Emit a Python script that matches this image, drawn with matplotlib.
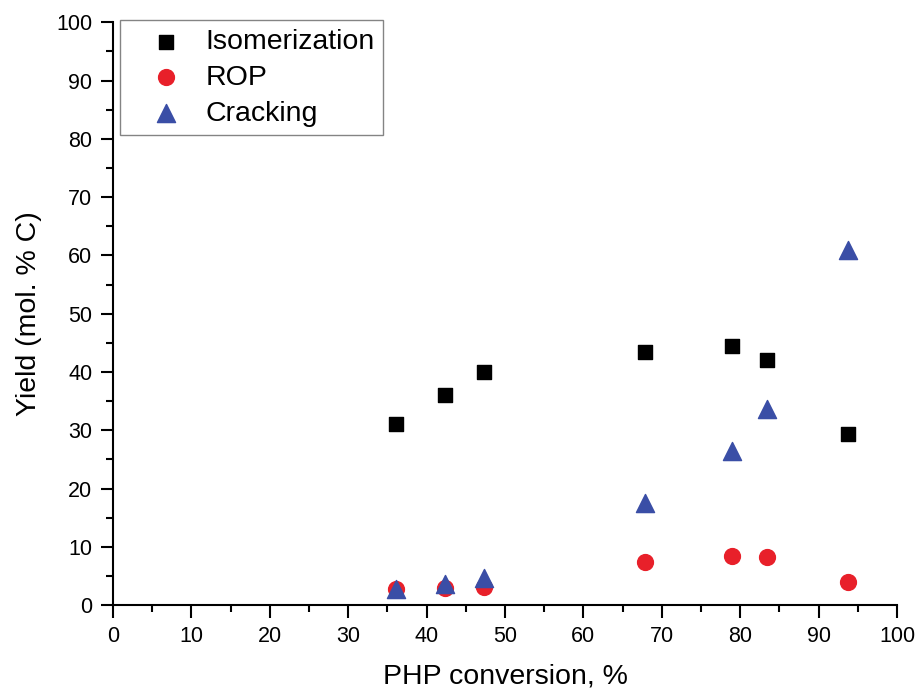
import matplotlib.pyplot as plt
from matplotlib.ticker import MultipleLocator

plt.rcParams['font.family'] = ['Liberation Sans', 'DejaVu Sans']

# PHP conversion (%) and yields (mol. % C)
conversion = [36.1, 42.4, 47.3, 67.8, 78.9, 83.4, 93.8]
isomerization = [31.1, 36.0, 40.0, 43.4, 44.4, 42.1, 29.4]
rop = [2.7, 3.0, 3.1, 7.4, 8.4, 8.3, 4.0]
cracking = [2.7, 3.6, 4.6, 17.5, 26.5, 33.6, 61.0]

fig = plt.figure(figsize=(9.19, 6.94), dpi=100)
ax = fig.add_axes([0.123, 0.128, 0.853, 0.84])

ax.scatter(conversion, isomerization, marker='s', s=110, color='black',
           label='Isomerization', zorder=3)
ax.scatter(conversion, rop, marker='o', s=130, color='#e8202a',
           label='ROP', zorder=3)
ax.scatter(conversion, cracking, marker='^', s=170, color='#3a4ea6',
           label='Cracking', zorder=4)

ax.set_xlim(0, 100)
ax.set_ylim(0, 100)
ax.xaxis.set_major_locator(MultipleLocator(10))
ax.xaxis.set_minor_locator(MultipleLocator(5))
ax.yaxis.set_major_locator(MultipleLocator(10))
ax.yaxis.set_minor_locator(MultipleLocator(5))
ax.tick_params(which='major', direction='out', length=9, width=1.5,
               labelsize=15.5, colors='black', pad=6)
ax.tick_params(which='minor', direction='out', length=5, width=1.5)

for side in ['top', 'right']:
    ax.spines[side].set_visible(False)
for side in ['left', 'bottom']:
    ax.spines[side].set_linewidth(1.5)

ax.set_xlabel('PHP conversion, %', fontsize=20.5, labelpad=12)
ax.set_ylabel('Yield (mol. % C)', fontsize=20.5, labelpad=10)

leg = ax.legend(loc='upper left', bbox_to_anchor=(0.009, 1.003), fontsize=20.5,
                frameon=True, fancybox=False, edgecolor='#666666',
                handletextpad=0.1, borderpad=0.3, labelspacing=0.35,
                handlelength=2.6, borderaxespad=0)
leg.get_frame().set_linewidth(1.0)

fig.savefig('out.png', dpi=100)
